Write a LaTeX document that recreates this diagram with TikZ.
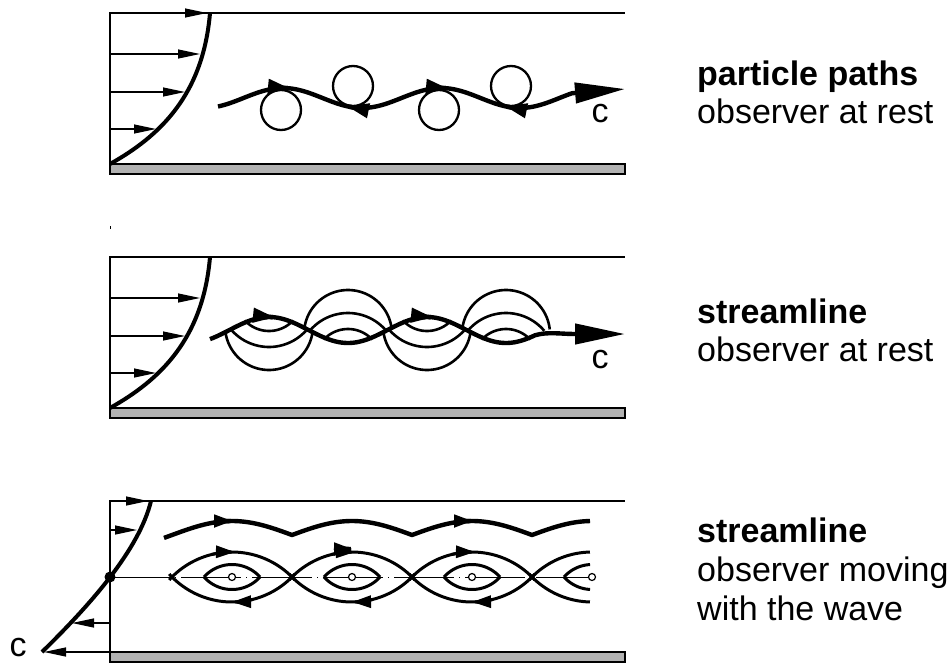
\documentclass[tikz,border=0pt]{standalone}
\usepackage{fontspec}
\setmainfont{Liberation Sans}
\usetikzlibrary{arrows.meta}

\begin{document}
\begin{tikzpicture}[x=1pt,y=-1pt,
  thinline/.style={line width=1.2pt},
  profile/.style={line width=4pt},
  wave/.style={line width=4.4pt},
  orbit/.style={line width=2.3pt},
  stream/.style={line width=2.6pt},
  eye/.style={line width=3pt},
  wallbar/.style={fill=black!30, draw=black, line width=1.2pt},
  vel/.style={thinline, -{Triangle[length=22pt,width=9pt]}},
  midtip/.style={-{Triangle[length=22pt,width=14pt]}},
  eyetip/.style={-{Triangle[length=19pt,width=12pt]}},
  endtip/.style={-{Triangle[length=50pt,width=20pt]}},
  txt/.style={font=\fontsize{34}{39}\selectfont, anchor=base west, inner sep=0pt},
  clab/.style={font=\fontsize{34}{39}\selectfont, inner sep=0pt},
]
\useasboundingbox (0,0) rectangle (952,664);

% ---------------- particle paths, observer at rest ----------------
\draw[thinline] (110,174) -- (110,13) -- (625,13);
\filldraw[wallbar] (110,164) rectangle (625,174);
\draw[profile] (110,164) .. controls (160,136) and (203,95) .. (210,13);
\draw[vel] (110,13) -- (207,13);
\draw[vel] (110,54) -- (200,54);
\draw[vel] (110,92) -- (185,92);
\draw[vel] (110,129) -- (156,129);

\draw[wave, endtip] plot[domain=218:572, samples=120, smooth] (\x,{98-10*cos((\x-283)*2.27848)}) -- (625,89);
\foreach \a in {270,428} {
  \draw[wave, midtip] plot[domain=\a:\a+20, samples=10] (\x,{98-10*cos((\x-283)*2.27848)});
}
\foreach \a in {368,526} {
  \draw[wave, midtip] plot[domain=\a:\a-21, samples=10] (\x,{98-10*cos((\x-283)*2.27848)});
}
\foreach \cx in {281,439} { \draw[orbit] (\cx,110) circle[radius=20]; }
\foreach \cx in {353,511} { \draw[orbit] (\cx,86) circle[radius=20]; }
\node[clab] (c1) at (600,114) {c};

\node[txt] (t1a) at (697,85) {\bfseries particle paths};
\node[txt] (t1b) at (697,123) {observer at rest};

% ---------------- streamline, observer at rest ----------------
\draw[line width=1pt] (110,226) -- (110,229);
\draw[thinline] (110,418) -- (110,257) -- (625,257);
\filldraw[wallbar] (110,408) rectangle (625,418);
\draw[profile] (110,408) .. controls (160,380) and (203,339) .. (210,257);
\draw[vel] (110,298) -- (200,298);
\draw[vel] (110,336) -- (185,336);
\draw[vel] (110,373) -- (156,373);

% arcs above the troughs
\foreach \xt in {348,506} {
  \draw[stream] plot[domain=186:354, samples=40, variable=\t] ({\xt+44*cos(\t)},{334+44*sin(\t)});
  \draw[stream] plot[domain=220:320, samples=30, variable=\t] ({\xt+50*cos(\t)},{363+50*sin(\t)});
  \draw[stream] plot[domain=223:317, samples=30, variable=\t] ({\xt+33*cos(\t)},{362+33*sin(\t)});
}
% arcs below the crests
\foreach \xc in {269,427} {
  \draw[stream] plot[domain=6:174, samples=40, variable=\t] ({\xc+44*cos(\t)},{326+44*sin(\t)});
  \draw[stream] plot[domain=40:140, samples=30, variable=\t] ({\xc+50*cos(\t)},{297+50*sin(\t)});
  \draw[stream] plot[domain=43:137, samples=30, variable=\t] ({\xc+33*cos(\t)},{298+33*sin(\t)});
}
\draw[wave, endtip] plot[domain=210:535, samples=110, smooth] (\x,{330-13*cos((\x-269)*2.27848)})
  .. controls (548,331.5) and (560,334) .. (575,334) -- (625,334);
\foreach \a in {255,413} {
  \draw[wave, midtip] plot[domain=\a:\a+20, samples=10] (\x,{330-13*cos((\x-269)*2.27848)});
}
\node[clab] (c2) at (600,360) {c};

\node[txt] (t2a) at (697,323) {\bfseries streamline};
\node[txt] (t2b) at (697,361) {observer at rest};

% ---------------- streamline, observer moving with the wave ----------------
\draw[thinline] (110,662) -- (110,501) -- (625,501);
\filldraw[wallbar] (110,652) rectangle (625,662);
\draw[line width=0.8pt, dash pattern=on 60pt off 5pt on 1pt off 5pt] (110,577) -- (595,577);
\draw[profile] (42,652) .. controls (90,605) and (139,550) .. (151,501);
\draw[vel] (110,501) -- (148,501);
\draw[vel] (110,530) -- (137,530);
\draw[vel] (110,623) -- (72,623);
\draw[vel] (110,652) -- (44,652);
\fill (110,577) circle[radius=5.5];
\node[clab] (c3) at (18,648) {c};

% wavy streamline above the eddies
\draw[wave, line join=round] plot[domain=164:590, samples=214] (\x,{535-14*(\x<292 ? sin(1.5*(\x-172)) : abs(sin(1.5*(\x-172))))});
\foreach \a in {214,334,454} {
  \draw[wave, eyetip] plot[domain=\a:\a+19, samples=10] (\x,{535-14*sin(1.5*(\x-172))});
}

% closed eddies with their separatrix
\foreach \xe in {232,352,472} {
  \draw[eye] plot[domain=222:318, samples=40, variable=\t] ({\xe+84.5*cos(\t)},{636.5+84.5*sin(\t)});
  \draw[eye] plot[domain=42:138, samples=40, variable=\t] ({\xe+84.5*cos(\t)},{517.5+84.5*sin(\t)});
  \draw[eye] plot[domain=221.9:318.1, samples=30, variable=\t] ({\xe+37.6*cos(\t)},{602.1+37.6*sin(\t)});
  \draw[eye] plot[domain=41.9:138.1, samples=30, variable=\t] ({\xe+37.6*cos(\t)},{551.9+37.6*sin(\t)});
  \draw[eye, eyetip] plot[domain=256:272, samples=8, variable=\t] ({\xe+84.5*cos(\t)},{636.5+84.5*sin(\t)});
  \draw[eye, eyetip] plot[domain=76:90, samples=8, variable=\t] ({\xe+84.5*cos(\t)},{517.5+84.5*sin(\t)});
  \filldraw[fill=white, line width=1.2pt] (\xe,577) circle[radius=3.5];
}
\draw[eye] plot[domain=222:268.6, samples=20, variable=\t] ({592+84.5*cos(\t)},{636.5+84.5*sin(\t)});
\draw[eye] plot[domain=91.4:138, samples=20, variable=\t] ({592+84.5*cos(\t)},{517.5+84.5*sin(\t)});
\draw[eye] plot[domain=221.9:267, samples=20, variable=\t] ({592+37.6*cos(\t)},{602.1+37.6*sin(\t)});
\draw[eye] plot[domain=93:138.1, samples=20, variable=\t] ({592+37.6*cos(\t)},{551.9+37.6*sin(\t)});
\filldraw[fill=white, line width=1.2pt] (592,577) circle[radius=3.5];

\node[txt] (t3a) at (697,542) {\bfseries streamline};
\node[txt] (t3b) at (697,581) {observer moving};
\node[txt] (t3c) at (697,620) {with the wave};
\end{tikzpicture}
\end{document}
